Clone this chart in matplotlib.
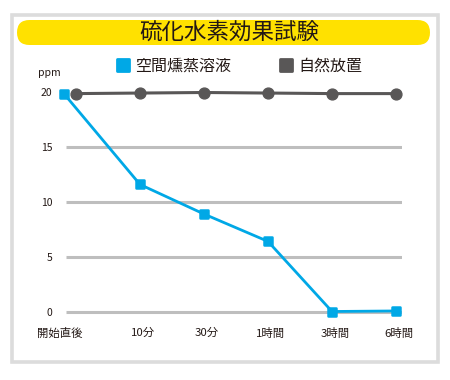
import matplotlib
matplotlib.use('Agg')
import matplotlib.pyplot as plt
from matplotlib.patches import FancyBboxPatch, Rectangle
from matplotlib.markers import MarkerStyle
from matplotlib.lines import Line2D
from matplotlib.transforms import IdentityTransform, offset_copy

plt.rcParams['font.family'] = ['Noto Sans CJK JP', 'DejaVu Sans']

# data
title = '硫化水素効果試験'
time_labels = ['開始直後', '10分', '30分', '1時間', '3時間', '6時間']
series_names = ['空間燻蒸溶液', '自然放置']
fumigant_x = [-0.19, 1, 2, 3, 4, 5]
fumigant_ppm = [19.9, 11.6, 8.9, 6.4, 0.0, 0.05]
natural_x = [0, 1, 2, 3, 4, 5]
natural_ppm = [19.9, 19.95, 20.0, 19.95, 19.9, 19.9]
y_ticks = [0, 5, 10, 15, 20]
grid_values = [0, 5, 10, 15]

blue = '#00A8E6'
dark = '#595757'
text_col = '#231815'

W, H = 450, 380
fig = plt.figure(figsize=(W / 100, H / 100), dpi=100)

# outer frame and title banner (pixel coords, origin bottom-left)
frame = Rectangle((11.8, 18), 426.4, 347.2, transform=IdentityTransform(),
                  fill=False, edgecolor='#DCDCDC', linewidth=2.6)
fig.patches.append(frame)
banner = FancyBboxPatch((17 + 12.5, 347.5), 413 - 25, 0, transform=IdentityTransform(),
                        boxstyle='round,pad=12.5,rounding_size=12.5',
                        facecolor='#FFE100', edgecolor='none')
fig.patches.append(banner)
fig.text(229 / W, 1 - 32.5 / H, title, ha='center', va='center',
         fontsize=16.2, color=text_col)

# plot area: x index 0 at 76px, 64px per step; y=0 at 311.5px, 10.95px per ppm
px_x0, px_step = 76, 64
px_y0, px_unit = 311.5, 10.95
left_px, right_px = 66, 402
ymin, ymax = -1.0, 21.0
top_px = px_y0 - ymax * px_unit
bot_px = px_y0 - ymin * px_unit
ax = fig.add_axes([left_px / W, 1 - bot_px / H, (right_px - left_px) / W, (bot_px - top_px) / H])
ax.set_xlim((left_px - px_x0) / px_step, (right_px - px_x0) / px_step)
ax.set_ylim(ymin, ymax)
ax.patch.set_alpha(0)
for s in ax.spines.values():
    s.set_visible(False)

ax.hlines(grid_values, *ax.get_xlim(), colors='#BEBEBE', linewidth=2.2, zorder=1)

sq = MarkerStyle('s', joinstyle='round')
ax.plot(natural_x, natural_ppm, color=dark, linewidth=2.2, marker='o',
        markersize=7.8, clip_on=False, zorder=3)
ax.plot(fumigant_x, fumigant_ppm, color=blue, linewidth=2.0, marker=sq,
        markersize=6, markeredgewidth=1.8, clip_on=False, zorder=4)

ax.set_yticks(y_ticks)
ax.set_yticklabels([str(v) for v in y_ticks], fontsize=7.5, color=text_col)
ax.tick_params(axis='y', length=0, pad=10)
ax.set_xticks(natural_x)
ax.set_xticklabels(time_labels, fontsize=8.2, color=text_col)
ax.tick_params(axis='x', length=0, pad=4)
first = ax.get_xticklabels()[0]
first.set_transform(offset_copy(first.get_transform(), fig=fig, x=-16, y=0, units='dots'))
for lab in ax.get_xticklabels()[1:]:
    lab.set_transform(offset_copy(lab.get_transform(), fig=fig, x=3, y=0, units='dots'))

fig.text(49 / W, 1 - 73 / H, 'ppm', ha='center', va='center', fontsize=7.5, color=text_col)

# legend
handles = [
    Line2D([], [], linestyle='none', marker=sq, markersize=8, markeredgewidth=2,
           color=blue),
    Line2D([], [], linestyle='none', marker=sq, markersize=8, markeredgewidth=2,
           color=dark),
]
fig.legend(handles, series_names, loc='center', bbox_to_anchor=(239 / W, 1 - 66 / H),
           ncol=2, frameon=False, fontsize=11.5, handlelength=0.9, handletextpad=0.3,
           columnspacing=3.0, labelcolor=text_col)

fig.savefig('out.png', dpi=100)
